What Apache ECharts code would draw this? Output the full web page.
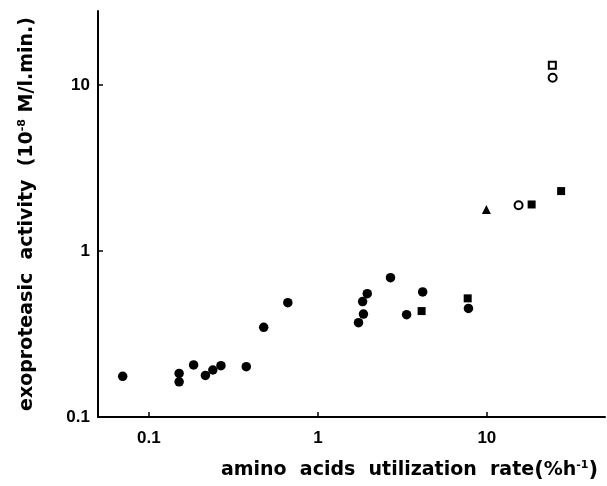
<!DOCTYPE html>
<html>
<head>
<meta charset="utf-8">
<script src="https://cdn.jsdelivr.net/npm/echarts@6/dist/echarts.min.js"></script>
<style>
html,body{margin:0;padding:0;background:#fff;}
#chart{width:607px;height:486px;}
</style>
</head>
<body>
<div id="chart"></div>
<script>
// x: amino acids utilization rate (%h-1), y: exoproteasic activity (10^-8 M/l.min.)
var filledCircles = [
  [0.070, 0.176], [0.151, 0.183], [0.151, 0.163], [0.184, 0.206],
  [0.216, 0.178], [0.239, 0.192], [0.267, 0.204], [0.377, 0.201],
  [0.478, 0.347], [0.664, 0.489], [1.96, 0.554], [1.84, 0.496],
  [1.86, 0.417], [1.74, 0.370], [2.69, 0.691], [3.35, 0.414],
  [4.17, 0.567], [7.78, 0.451]
];
var filledSquares = [[4.11, 0.435], [7.70, 0.519], [18.4, 1.91], [27.5, 2.30]];
var openCircles = [[15.4, 1.89], [24.5, 11.1]];
var openSquares = [[24.4, 13.2]];
var filledTriangles = [[9.93, 1.78]];
var xTicks = [0.1, 1, 10];
var yTicks = [0.1, 1, 10];

var font = '"Liberation Sans", Arial, sans-serif';
var tfont = '"DejaVu Sans", sans-serif';
var chart = echarts.init(document.getElementById('chart'), null, {renderer: 'canvas'});
function fmt(v) { return String(Math.round(v * 1000) / 1000); }
var axisCommon = {
  type: 'log',
  logBase: 10,
  axisLine: {show: true, lineStyle: {color: '#000', width: 2}},
  axisTick: {show: true, inside: true, length: 5, lineStyle: {color: '#000', width: 1.5}},
  minorTick: {show: false},
  splitLine: {show: false},
  minorSplitLine: {show: false}
};
chart.setOption({
  animation: false,
  backgroundColor: '#fff',
  grid: {left: 98, right: 2, top: 11, bottom: 69, containLabel: false},
  xAxis: Object.assign({}, axisCommon, {
    min: 0.05, max: 50,
    axisTick: Object.assign({}, axisCommon.axisTick, {customValues: xTicks}),
    axisLabel: {customValues: xTicks, formatter: fmt, color: '#000', fontFamily: font, fontWeight: 'bold', fontSize: 17, margin: 13},
    name: 'amino  acids  utilization  rate{p|(}%h{sup|-1}{p|)}',
    nameLocation: 'middle',
    nameGap: 43,
    nameTextStyle: {
      color: '#000', fontFamily: tfont, fontWeight: 'bold', fontSize: 19,
      padding: [0, 0, 0, 116],
      rich: {
        sup: {fontSize: 11, fontWeight: 'bold', fontFamily: tfont, color: '#000', verticalAlign: 'top', padding: [0, 0, 9, 0]},
        p: {fontSize: 21, fontWeight: 'bold', fontFamily: tfont, color: '#000'}
      }
    }
  }),
  yAxis: Object.assign({}, axisCommon, {
    min: 0.1, max: 28,
    axisTick: Object.assign({}, axisCommon.axisTick, {customValues: yTicks}),
    axisLabel: {customValues: yTicks, formatter: fmt, color: '#000', fontFamily: font, fontWeight: 'bold', fontSize: 17, margin: 8},
    name: 'exoproteasic  activity  (10{sup|-8} M/l.min.)',
    nameLocation: 'middle',
    nameGap: 61,
    nameRotate: 90,
    nameTextStyle: {
      color: '#000', fontFamily: tfont, fontWeight: 'bold', fontSize: 19,
      rich: {
        sup: {fontSize: 11, fontWeight: 'bold', fontFamily: tfont, color: '#000', verticalAlign: 'top', padding: [0, 0, 9, 0]}
      }
    }
  }),
  series: [
    {type: 'scatter', name: 'filled circles', data: filledCircles, symbol: 'circle', symbolSize: 9.5,
     itemStyle: {color: '#000', opacity: 1}},
    {type: 'scatter', name: 'filled squares', data: filledSquares, symbol: 'rect', symbolSize: 8,
     itemStyle: {color: '#000', opacity: 1}},
    {type: 'scatter', name: 'open circles', data: openCircles, symbol: 'circle', symbolSize: 8,
     itemStyle: {color: '#fff', borderColor: '#000', borderWidth: 2, opacity: 1}},
    {type: 'scatter', name: 'open squares', data: openSquares, symbol: 'rect', symbolSize: 7,
     itemStyle: {color: '#fff', borderColor: '#000', borderWidth: 2, opacity: 1}},
    {type: 'scatter', name: 'filled triangles', data: filledTriangles, symbol: 'triangle', symbolSize: 9,
     itemStyle: {color: '#000', opacity: 1}}
  ]
});
</script>
</body>
</html>
